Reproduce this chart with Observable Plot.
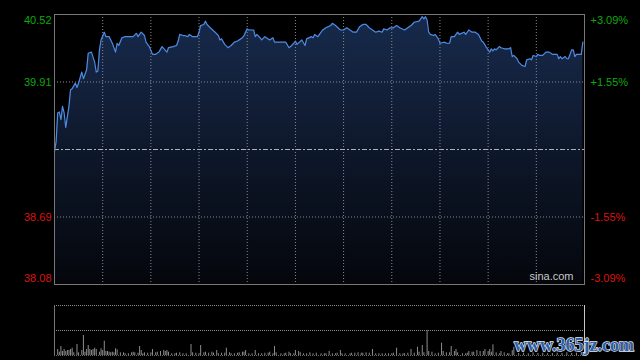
<!DOCTYPE html>
<html>
<head>
<meta charset="utf-8">
<script src="https://cdn.jsdelivr.net/npm/d3@7"></script>
<script src="https://cdn.jsdelivr.net/npm/@observablehq/plot@0.6"></script>
<style>
  html, body { margin: 0; padding: 0; background: #000; }
  #chart { position: relative; width: 640px; height: 360px; background: #000; overflow: hidden; }
  #chart > svg { position: absolute; left: 0; }
</style>
</head>
<body>
<div id="chart"></div>
<script>
// ---- Data (trading minutes since 09:30, HK session, 330 minutes) ----
const minutes = [
  0,1,2,3,4,5,6,7,9,10,
  11,13,14,15,17,18,19,20,21,23,
  25,26,27,28,29,31,32,34,36,38,
  39,40,42,44,49,51,52,54,56,57,
  59,61,63,65,67,70,71,74,76,77,
  78,80,81,83,84,86,89,90,91,93,
  94,95,97,100,102,103,104,106,108,110,
  112,114,117,118,120,121,124,125,126,128,
  129,131,134,136,137,140,144,146,147,149,
  150,151,154,156,157,160,161,162,164,165,
  167,169,172,173,175,178,180,182,184,186,
  188,190,192,194,196,198,200,202,204,205,
  207,209,211,213,215,218,220,222,224,227,
  229,230,231,232,233,234,236,237,239,240,
  243,244,246,247,249,251,252,255,256,258,
  260,262,264,266,267,269,271,272,273,274,
  275,277,278,280,283,284,285,286,288,289,
  291,293,294,296,297,298,300,301,302,304,
  306,308,310,313,314,315,316,318,319,320,
  322,323,324,325,328,329
];
const prices = [
  39.28,39.37,39.63,39.64,39.57,39.69,39.63,39.50,39.69,39.84,
  39.85,39.90,39.86,39.90,40.00,39.94,39.98,40.02,40.17,40.18,
  40.09,40.00,40.01,40.20,40.29,40.36,40.32,40.32,40.26,40.18,
  40.26,40.24,40.31,40.32,40.32,40.35,40.32,40.36,40.33,40.27,
  40.23,40.16,40.16,40.18,40.23,40.18,40.22,40.23,40.24,40.28,
  40.34,40.33,40.33,40.32,40.34,40.32,40.32,40.36,40.42,40.43,
  40.46,40.43,40.40,40.36,40.33,40.29,40.30,40.25,40.22,40.24,
  40.27,40.28,40.31,40.33,40.39,40.38,40.38,40.32,40.34,40.31,
  40.29,40.32,40.29,40.31,40.27,40.27,40.27,40.22,40.23,40.26,
  40.28,40.25,40.29,40.24,40.30,40.32,40.31,40.34,40.32,40.34,
  40.38,40.40,40.42,40.44,40.42,40.38,40.38,40.40,40.38,40.36,
  40.36,40.41,40.43,40.43,40.40,40.38,40.36,40.37,40.36,40.39,
  40.38,40.40,40.40,40.42,40.40,40.38,40.40,40.42,40.45,40.46,
  40.50,40.48,40.50,40.47,40.36,40.34,40.33,40.34,40.30,40.26,
  40.27,40.26,40.26,40.32,40.32,40.36,40.34,40.36,40.34,40.38,
  40.36,40.36,40.34,40.28,40.27,40.22,40.18,40.21,40.19,40.21,
  40.20,40.23,40.22,40.21,40.21,40.22,40.14,40.15,40.12,40.09,
  40.06,40.05,40.11,40.12,40.11,40.15,40.14,40.16,40.15,40.15,
  40.18,40.18,40.16,40.16,40.12,40.14,40.12,40.14,40.12,40.12,
  40.20,40.20,40.14,40.16,40.16,40.27
];

const volMinutes = [
  0,2,3,4,5,6,7,8,9,10,11,12,14,15,17,18,19,20,21,22,23,24,25,26,28,29,30,31,32,33,
  34,35,36,37,38,39,41,43,44,46,48,49,50,52,53,54,55,56,58,60,61,63,64,66,68,69,70,71,73,75,
  76,78,80,82,85,86,88,90,91,93,94,96,98,99,101,102,104,106,107,109,110,112,114,115,117,118,119,121,123,125,
  127,129,131,133,134,136,137,138,141,143,144,146,147,149,150,152,153,155,157,159,161,163,166,168,169,171,173,175,176,178,
  179,181,184,185,187,189,191,192,194,196,198,200,202,204,206,208,210,211,213,215,217,218,220,222,224,226,227,229,230,232,
  233,235,237,239,241,242,244,246,247,249,250,251,254,256,257,258,260,261,263,265,267,268,270,271,272,273,275,277,278,280,
  282,283,285,286,289,292,295,298,301,304,307,310,313,316,319,322,325,328
];
const volumes = [
  17.3,6,3.3,9,4,6,4,5,5,6,7.3,2.7,11,2.7,5,20,3.3,6,10,6,5,6,7.3,6,3.3,6.7,5,14.3,4,4,
  3.3,2.7,3.3,2.7,6.7,5.7,2.7,2.7,1.7,1.7,2.7,3.3,2.7,2.3,9,5,1.7,2.7,2.3,2.7,6,2.7,3.3,4,5,4,5,3.3,1.7,1.7,
  2.3,2.7,1.7,1.7,11,2.7,2.3,1.7,10,2.7,3.3,2.3,3.3,2.3,5,1.7,2.3,2.3,7.3,2.7,1.7,1.7,2.3,2.7,3.3,3.3,5,1.7,1.7,5,
  1.7,1.7,2.3,2.3,3.3,1.7,9,2.7,1.7,1.7,2.3,3.3,1.7,1.7,5,4,2.7,1.7,1.7,2.7,1.7,2.3,1.7,1.7,1.7,4,1.7,1.7,2.3,5,
  1.7,1.7,1.7,2.3,2.3,2.7,2.3,2.3,2.7,2.3,6,1.7,1.7,1.7,1.7,1.7,1.7,2.3,7.3,1.7,1.7,1.7,2.3,6,2.3,8.3,3.3,10,2.7,25,
  4,3.3,1.7,2.3,12.3,4,2.7,2.7,9,4,6,2.7,1.7,1.7,2.3,4,3.3,3.3,5,4,4,6,4,6,3.3,10.7,2.7,1.7,4,2.7,
  1.7,1.7,5,8.3,2,2.3,1.7,2.7,2,2.3,1.7,2,2.3,2,2.7,2,2.3,3
];

const priceTicks = [40.52, 39.91, 38.69, 38.08];
const pctLabels = ["+3.09%", "+1.55%", "-1.55%", "-3.09%"];
const prevClose = 39.30;
const sessionMinutes = 330;
const gridMinutes = [30, 60, 90, 120, 150, 180, 210, 240, 270, 300];
const volTop = 50;

// ---- Build tables ----
const data = minutes.map((m, i) => ({m, p: prices[i]}));
const vol = volMinutes.map((m, i) => ({m, v: volumes[i]}));
const green = "#0ea80e", red = "#dd1111";
const ticks = priceTicks.map((v, i) => ({
  v, pct: pctLabels[i], color: v > prevClose ? green : red,
  edge: i === 0 ? "top" : i === priceTicks.length - 1 ? "bottom" : "mid"
}));
const yLo = d3.min(priceTicks), yHi = d3.max(priceTicks);
const font = "'Liberation Sans', Arial, sans-serif";

const labelMarks = [];
for (const [edge, dy] of [["top", 6], ["mid", 0], ["bottom", -6]]) {
  const sub = ticks.filter(t => t.edge === edge);
  labelMarks.push(Plot.text(sub, {y: "v", text: d => d.v.toFixed(2), fill: "color",
    frameAnchor: "left", textAnchor: "end", dx: -3, dy, fontSize: 11}));
  labelMarks.push(Plot.text(sub, {y: "v", text: "pct", fill: "color",
    frameAnchor: "right", textAnchor: "start", dx: 6, dy, fontSize: 11}));
}

const main = Plot.plot({
  width: 640, height: 300,
  marginLeft: 54, marginRight: 56, marginTop: 14, marginBottom: 16,
  x: {domain: [0, sessionMinutes], axis: null},
  y: {domain: [yLo, yHi], axis: null},
  style: {background: "transparent", fontFamily: font, fontSize: "11px", color: "#ccc"},
  marks: [
    Plot.areaY(data, {x: "m", y1: () => yLo, y2: "p", fill: "url(#pxgrad)"}),
    Plot.ruleX(gridMinutes, {stroke: "#8a8a8a", strokeDasharray: "1,2"}),
    Plot.ruleY(priceTicks.slice(1, -1), {stroke: "#8a8a8a", strokeDasharray: "1,2"}),
    Plot.ruleY([prevClose], {stroke: "#b0b0b0", strokeDasharray: "5,2,2,2"}),
    Plot.line(data, {x: "m", y: "p", stroke: "#4d8ae2", strokeWidth: 1.2}),
    Plot.frame({stroke: "#777"}),
    Plot.text(["sina.com"], {text: d => d, frameAnchor: "bottom-right", textAnchor: "end",
      dx: -11, dy: -5, fill: "#c8c8c8", fontSize: 11}),
    ...labelMarks
  ]
});
const defs = d3.select(main).insert("defs", ":first-child");
const grad = defs.append("linearGradient").attr("id", "pxgrad")
  .attr("x1", 0).attr("y1", 0).attr("x2", 0).attr("y2", 1);
grad.append("stop").attr("offset", "0%").attr("stop-color", "#172a4c");
grad.append("stop").attr("offset", "55%").attr("stop-color", "#0d1628");
grad.append("stop").attr("offset", "100%").attr("stop-color", "#04060b");
main.style.top = "0px";

const volPlot = Plot.plot({
  width: 640, height: 60,
  marginLeft: 54, marginRight: 56, marginTop: 5, marginBottom: 5,
  x: {domain: [0, sessionMinutes], axis: null},
  y: {domain: [0, volTop], axis: null},
  style: {background: "transparent"},
  marks: [
    Plot.ruleY([volTop, volTop / 2], {stroke: "#8a8a8a", strokeDasharray: "1,1"}),
    Plot.ruleY([0], {stroke: "#6a6a6a", strokeDasharray: "1,1"}),
    Plot.ruleX(vol, {x: "m", y1: 0, y2: "v", stroke: "#8c8c8c", strokeWidth: 1}),
    Plot.ruleX([0], {stroke: "#777"}),
    Plot.ruleX([sessionMinutes], {stroke: "#c8c8c8"})
  ]
});
volPlot.style.top = "300px";

const chart = document.getElementById("chart");
chart.appendChild(main);
chart.appendChild(volPlot);

// site watermark overlay
const wm = d3.select(chart).append("svg").attr("width", 640).attr("height", 360)
  .style("position", "absolute").style("left", "0px").style("top", "0px");
wm.append("text").attr("x", 514).attr("y", 351)
  .attr("font-family", "'Liberation Serif', serif").attr("font-weight", "bold").attr("font-size", 18)
  .attr("fill", "#2d5fa8").attr("stroke", "#e6ecf6").attr("stroke-width", 1.3)
  .attr("paint-order", "stroke")
  .text("www.365jz.com");
</script>
</body>
</html>
